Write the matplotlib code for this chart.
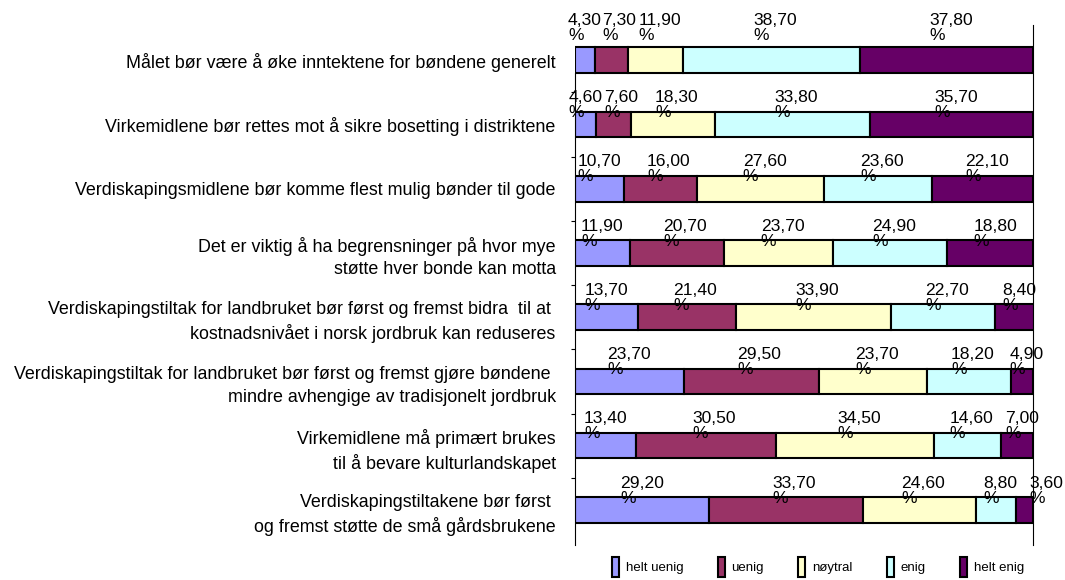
import matplotlib
matplotlib.use("Agg")
import matplotlib.pyplot as plt
import numpy as np

plt.rcParams["font.family"] = ["Liberation Sans", "DejaVu Sans"]

statements = [
    "Målet bør være å øke inntektene for bøndene generelt",
    "Virkemidlene bør rettes mot å sikre bosetting i distriktene",
    "Verdiskapingsmidlene bør komme flest mulig bønder til gode",
    "Det er viktig å ha begrensninger på hvor mye\nstøtte hver bonde kan motta",
    "Verdiskapingstiltak for landbruket bør først og fremst bidra  til at \nkostnadsnivået i norsk jordbruk kan reduseres",
    "Verdiskapingstiltak for landbruket bør først og fremst gjøre bøndene \nmindre avhengige av tradisjonelt jordbruk",
    "Virkemidlene må primært brukes\ntil å bevare kulturlandskapet",
    "Verdiskapingstiltakene bør først \nog fremst støtte de små gårdsbrukene",
]

categories = ["helt uenig", "uenig", "nøytral", "enig", "helt enig"]

helt_uenig = [4.3, 4.6, 10.7, 11.9, 13.7, 23.7, 13.4, 29.2]
uenig = [7.3, 7.6, 16.0, 20.7, 21.4, 29.5, 30.5, 33.7]
noytral = [11.9, 18.3, 27.6, 23.7, 33.9, 23.7, 34.5, 24.6]
enig = [38.7, 33.8, 23.6, 24.9, 22.7, 18.2, 14.6, 8.8]
helt_enig = [37.8, 35.7, 22.1, 18.8, 8.4, 4.9, 7.0, 3.6]

colors = ["#9999FF", "#993366", "#FFFFCC", "#CCFFFF", "#660066"]
# horizontal label nudge per series (pixels), like Excel's uneven placement
nudge_px = [0, 8, 4, 4, 5]

series = [helt_uenig, uenig, noytral, enig, helt_enig]

fig = plt.figure(figsize=(10.65, 5.8), dpi=100)
ax = fig.add_axes([0.540, 0.060, 0.430, 0.897])

y = np.arange(len(statements))
bar_h = 0.4
left = np.zeros(len(statements))
for name, vals, color, dx in zip(categories, series, colors, nudge_px):
    vals = np.array(vals)
    ax.barh(y, vals, left=left, height=bar_h, color=color,
            edgecolor="black", linewidth=1.5, label=name)
    for yi, l, v in zip(y, left, vals):
        # first row's labels sit fully above the bar, the rest overlap its top edge
        lift = 0.3 if yi == 0 else 0.1
        # very thin end segments get their label pushed past the bar end
        shift = dx + (17 if v < 4 else 0)
        ax.annotate(f"{v:.2f}".replace(".", ",") + "\n%",
                    xy=(l + v / 2, yi - bar_h / 2 - lift),
                    xytext=(shift * 0.72, 0), textcoords="offset points",
                    ha="center", va="center", multialignment="left",
                    fontsize=12.6, linespacing=1.0)
    left += vals

ymax = len(statements) - 0.45
ax.set_xlim(0, 100)
ax.set_ylim(ymax, -0.55)
ax.set_xticks([])
ax.set_yticks(y, statements, fontsize=12.9)
for lbl in ax.get_yticklabels():
    lbl.set_linespacing(1.4)
    lbl.set_multialignment("right")
ax.set_yticks(y[:-1] + 0.5, minor=True)
ax.tick_params(axis="y", which="major", length=0, pad=14)
ax.tick_params(axis="y", which="minor", length=3, width=0.8, direction="out")
for side in ["top", "bottom"]:
    ax.spines[side].set_visible(False)
ax.spines["left"].set_linewidth(0.8)
ax.spines["left"].set_bounds(bar_h / 2, ymax)
ax.spines["right"].set_linewidth(0.8)

handles, labels = ax.get_legend_handles_labels()
fig.legend(handles, labels, loc="center", bbox_to_anchor=(0.768, 0.022),
           ncol=5, frameon=False, fontsize=9.5, handlelength=0.55,
           handleheight=1.9, handletextpad=0.5, columnspacing=2.6)

fig.savefig("out.png", dpi=100)
